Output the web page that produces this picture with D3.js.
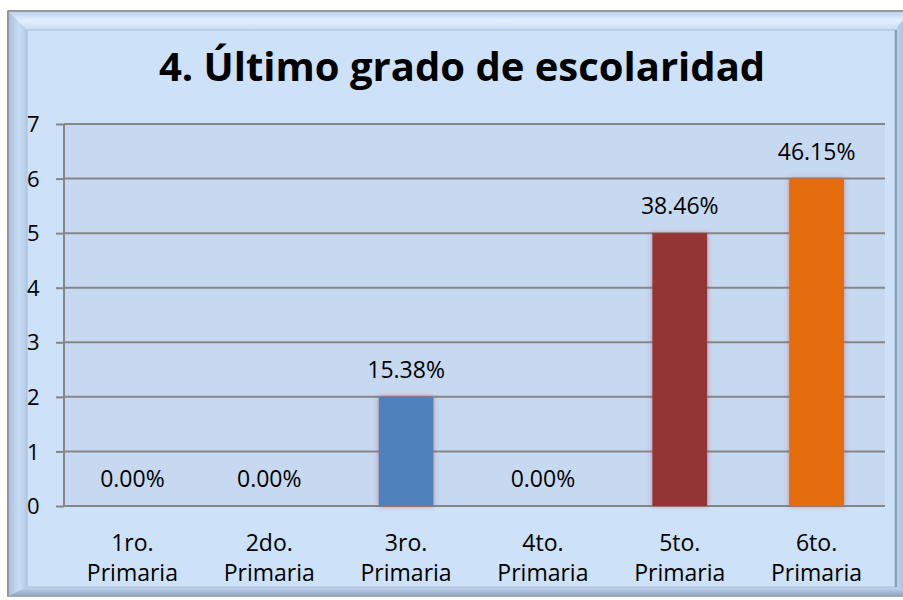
<!DOCTYPE html>
<html>
<head>
<meta charset="utf-8">
<script src="https://cdn.jsdelivr.net/npm/d3@7"></script>
<style>
  body { margin: 0; background: #ffffff; }
  svg { display: block; }
  text { font-family: "Open Sans", "Noto Sans", sans-serif; fill: #000; }
</style>
</head>
<body>
<div class="canvaChart"></div>
<script>
// chart data
var categories = [["1ro.", "Primaria"], ["2do.", "Primaria"], ["3ro.", "Primaria"],
                  ["4to.", "Primaria"], ["5to.", "Primaria"], ["6to.", "Primaria"]];
var values = [0, 0, 2, 0, 5, 6];
var percentLabels = ["0.00%", "0.00%", "15.38%", "0.00%", "38.46%", "46.15%"];
var barColors = ["#4f81bd", "#4f81bd", "#4f81bd", "#4f81bd", "#943634", "#e46c0a"];
var yTicks = [0, 1, 2, 3, 4, 5, 6, 7];
var title = "4. Último grado de escolaridad";

var W = 903, H = 600;
var svg = d3.select(".canvaChart").append("svg")
    .attr("width", W).attr("height", H);

var defs = svg.append("defs");

var gTop = defs.append("linearGradient").attr("id", "gTop").attr("x1", 0).attr("y1", 0).attr("x2", 0).attr("y2", 1);
gTop.append("stop").attr("offset", 0).attr("stop-color", "#b9d0ec");
gTop.append("stop").attr("offset", 0.5).attr("stop-color", "#e2efff");
gTop.append("stop").attr("offset", 1).attr("stop-color", "#c9ddf5");

var gLeft = defs.append("linearGradient").attr("id", "gLeft").attr("x1", 0).attr("y1", 0).attr("x2", 1).attr("y2", 0);
gLeft.append("stop").attr("offset", 0).attr("stop-color", "#a8c0de");
gLeft.append("stop").attr("offset", 0.6).attr("stop-color", "#c8dcf4");
gLeft.append("stop").attr("offset", 1).attr("stop-color", "#b3c9e4");

var gBot = defs.append("linearGradient").attr("id", "gBot").attr("x1", 0).attr("y1", 0).attr("x2", 0).attr("y2", 1);
gBot.append("stop").attr("offset", 0).attr("stop-color", "#c2d6ee");
gBot.append("stop").attr("offset", 1).attr("stop-color", "#8ea5c2");

var gRight = defs.append("linearGradient").attr("id", "gRight").attr("x1", 0).attr("y1", 0).attr("x2", 1).attr("y2", 0);
gRight.append("stop").attr("offset", 0).attr("stop-color", "#c0d5ee");
gRight.append("stop").attr("offset", 1).attr("stop-color", "#9fb7d4");

var shadow = defs.append("filter").attr("id", "shadow")
    .attr("x", "-30%").attr("y", "-10%").attr("width", "160%").attr("height", "120%");
shadow.append("feGaussianBlur").attr("in", "SourceAlpha").attr("stdDeviation", 2.5).attr("result", "b");
shadow.append("feFlood").attr("flood-color", "#b04040").attr("flood-opacity", 0.55);
shadow.append("feComposite").attr("in2", "b").attr("operator", "in").attr("result", "s");
var fm = shadow.append("feMerge");
fm.append("feMergeNode").attr("in", "s");
fm.append("feMergeNode").attr("in", "SourceGraphic");

// frame (bevel)
var oL = 8, oT = 11, oR = 910, oB = 596;
var iL = 27, iT = 30, iR = 895, iB = 587;
svg.append("rect").attr("x", oL).attr("y", oT).attr("width", oR - oL).attr("height", oB - oT)
    .attr("fill", "#c8dcf4").attr("stroke", "#8c8c8c").attr("stroke-width", 1.5);
svg.append("polygon").attr("points", [[oL, oT], [oR, oT], [iR, iT], [iL, iT]].join(" ")).attr("fill", "url(#gTop)");
svg.append("polygon").attr("points", [[oL, oT], [iL, iT], [iL, iB], [oL, oB]].join(" ")).attr("fill", "url(#gLeft)");
svg.append("polygon").attr("points", [[oL, oB], [iL, iB], [iR, iB], [oR, oB]].join(" ")).attr("fill", "url(#gBot)");
svg.append("polygon").attr("points", [[iR, iT], [oR, oT], [oR, oB], [iR, iB]].join(" ")).attr("fill", "url(#gRight)");
svg.append("line").attr("x1", oL).attr("y1", oT).attr("x2", oR).attr("y2", oT)
    .attr("stroke", "#8c8c8c").attr("stroke-width", 1.5);
svg.append("line").attr("x1", oL).attr("y1", oT).attr("x2", oL).attr("y2", oB)
    .attr("stroke", "#8c8c8c").attr("stroke-width", 1.5);
svg.append("rect").attr("x", iL).attr("y", iT).attr("width", iR - iL).attr("height", iB - iT)
    .attr("fill", "#cde1f8").attr("stroke", "#a9bdd6").attr("stroke-width", 1);
svg.append("line").attr("x1", iR + 1).attr("y1", iT).attr("x2", iR + 1).attr("y2", iB)
    .attr("stroke", "#7f8fa6").attr("stroke-width", 1.5);

// plot
var pL = 64, pR = 885, pT = 124, pB = 506;
var x = d3.scaleBand().domain(d3.range(categories.length)).range([pL, pR]).paddingInner(0.6).paddingOuter(0.3);
var xc = d3.scaleBand().domain(d3.range(categories.length)).range([pL, pR]);
var y = d3.scaleLinear().domain([0, 7]).range([pB, pT]);

svg.append("rect").attr("x", pL).attr("y", pT).attr("width", pR - pL).attr("height", pB - pT)
    .attr("fill", "#c6d9f1");

var yAxis = svg.append("g").attr("transform", "translate(" + pL + ",0)")
    .call(d3.axisLeft(y).tickValues(yTicks).tickSize(8).tickFormat(d3.format("d")));
yAxis.select(".domain").remove();
yAxis.selectAll(".tick line").attr("stroke", "#868686").attr("stroke-width", 2);
yAxis.selectAll(".tick text").attr("x", -37).attr("text-anchor", "start")
    .style("font-size", "22px").attr("dy", "0.35em").attr("fill", "#000");

svg.append("g").selectAll("line").data(yTicks).enter().append("line")
    .attr("x1", pL).attr("x2", pR)
    .attr("y1", function (d) { return y(d); }).attr("y2", function (d) { return y(d); })
    .attr("stroke", "#868686").attr("stroke-width", 2);
svg.append("line").attr("x1", pL).attr("x2", pL).attr("y1", pT).attr("y2", pB)
    .attr("stroke", "#868686").attr("stroke-width", 2);

svg.append("g").selectAll("rect").data(values).enter().append("rect")
    .attr("x", function (d, i) { return x(i); })
    .attr("width", x.bandwidth())
    .attr("y", function (d) { return y(d); })
    .attr("height", function (d) { return y(0) - y(d); })
    .attr("fill", function (d, i) { return barColors[i]; })
    .attr("filter", "url(#shadow)");

svg.append("g").selectAll("text").data(values).enter().append("text")
    .attr("x", function (d, i) { return xc(i) + xc.bandwidth() / 2; })
    .attr("y", function (d) { return y(d) - 19; })
    .attr("text-anchor", "middle")
    .style("font-size", "23px")
    .text(function (d, i) { return percentLabels[i]; });

var xl = svg.append("g").selectAll("text").data(categories).enter().append("text")
    .attr("text-anchor", "middle")
    .style("font-size", "23px");
xl.append("tspan").attr("x", function (d, i) { return xc(i) + xc.bandwidth() / 2; })
    .attr("y", 551).text(function (d) { return d[0]; });
xl.append("tspan").attr("x", function (d, i) { return xc(i) + xc.bandwidth() / 2; })
    .attr("y", 581).text(function (d) { return d[1]; });

svg.append("text").attr("x", 462).attr("y", 81).attr("text-anchor", "middle")
    .style("font-size", "40px").style("font-weight", "bold")
    .text(title);
</script>
</body>
</html>
